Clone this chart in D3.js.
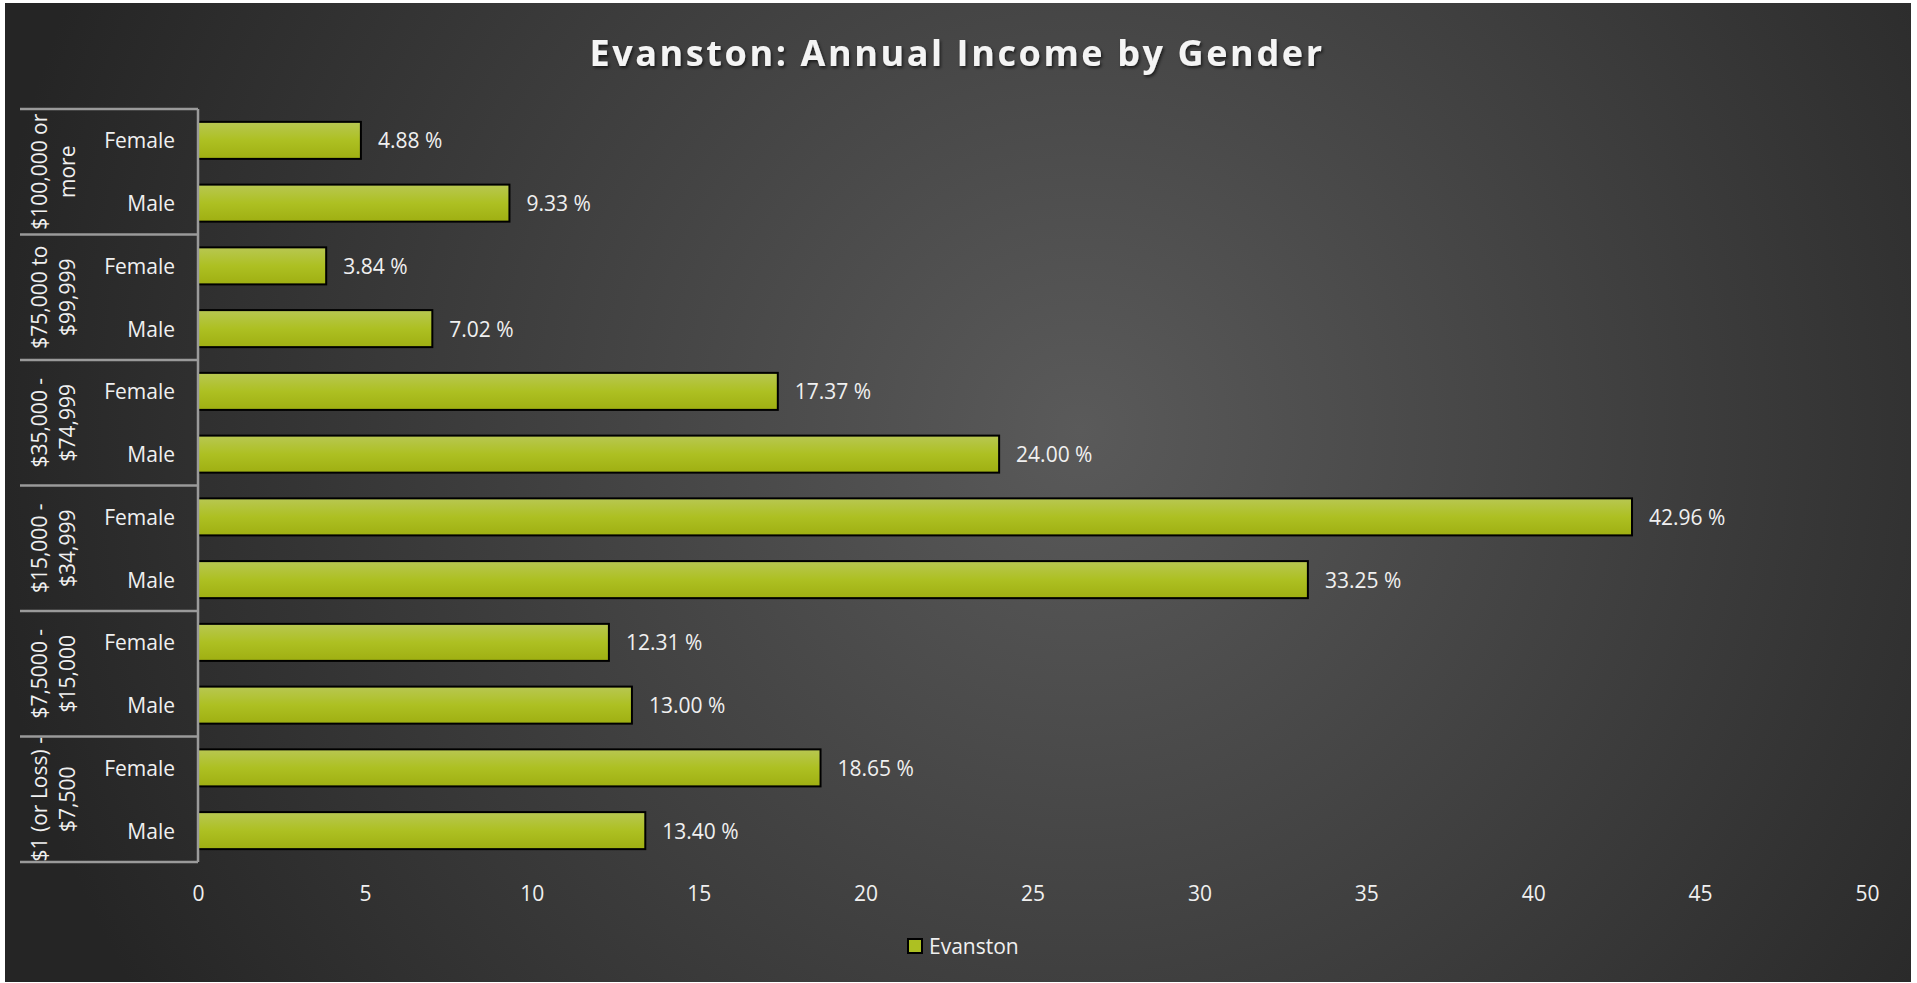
<!DOCTYPE html>
<html>
<head>
<meta charset="utf-8">
<script src="https://cdn.jsdelivr.net/npm/d3@7"></script>
<style>
  html, body { margin: 0; padding: 0; background: #fff; }
  svg { display: block; font-family: 'Open Sans', sans-serif; }
</style>
</head>
<body>
<svg id="chart"></svg>
<script>
const title = 'Evanston: Annual Income by Gender';
const categories = [
  ['$100,000 or', 'more'],
  ['$75,000 to', '$99,999'],
  ['$35,000 -', '$74,999'],
  ['$15,000 -', '$34,999'],
  ['$7,5000 -', '$15,000'],
  ['$1 (or Loss) -', '$7,500']
];
const genders = ['Female', 'Male'];
const female = [4.88, 3.84, 17.37, 42.96, 12.31, 18.65];
const male = [9.33, 7.02, 24.00, 33.25, 13.00, 13.40];
const xTicks = [0, 5, 10, 15, 20, 25, 30, 35, 40, 45, 50];
const seriesName = 'Evanston';

const width = 1917,
  height = 983,
  fontSize = '21px';

const svg = d3.select('#chart')
  .attr('width', width)
  .attr('height', height);

// rows: female/male inside each category, top to bottom
let rows = [];
categories.forEach((c, i) => {
  rows.push({ key: i + '-F', cat: i, gender: genders[0], value: female[i] });
  rows.push({ key: i + '-M', cat: i, gender: genders[1], value: male[i] });
});

const defs = svg.append('defs');

const bg = defs.append('radialGradient')
  .attr('id', 'bg')
  .attr('gradientUnits', 'userSpaceOnUse')
  .attr('cx', 1080).attr('cy', 430).attr('r', 1100);
bg.append('stop').attr('offset', '0%').attr('stop-color', '#5a5a5a');
bg.append('stop').attr('offset', '100%').attr('stop-color', '#252525');

const barGrad = defs.append('linearGradient')
  .attr('id', 'bar')
  .attr('x1', 0).attr('y1', 0).attr('x2', 0).attr('y2', 1);
barGrad.append('stop').attr('offset', '0%').attr('stop-color', '#b8c752');
barGrad.append('stop').attr('offset', '50%').attr('stop-color', '#adc022');
barGrad.append('stop').attr('offset', '100%').attr('stop-color', '#9faf12');

const shadow = defs.append('filter').attr('id', 'shadow')
  .attr('x', '-5%').attr('y', '-20%').attr('width', '110%').attr('height', '150%');
shadow.append('feDropShadow')
  .attr('dx', 1.5).attr('dy', 2).attr('stdDeviation', 1.5)
  .attr('flood-color', '#000').attr('flood-opacity', 0.6);

svg.append('rect')
  .attr('x', 5).attr('y', 3)
  .attr('width', 1906).attr('height', 979)
  .attr('fill', 'url(#bg)');

svg.append('text')
  .attr('x', 957)
  .attr('y', 66)
  .attr('text-anchor', 'middle')
  .attr('fill', '#f4f4f4')
  .style('font-size', '36px')
  .style('font-weight', 'bold')
  .style('letter-spacing', '2.6px')
  .attr('filter', 'url(#shadow)')
  .text(title);

const x = d3.scaleLinear()
  .domain([0, 50])
  .range([198, 1867]);

const y = d3.scaleBand()
  .domain(rows.map(d => d.key))
  .range([109, 862])
  .paddingInner(0.41)
  .paddingOuter(0.205);

const step = y.step();
const catTop = i => y.range()[0] + i * 2 * step;

// bars
svg.append('g')
  .selectAll('rect')
  .data(rows)
  .join('rect')
  .attr('x', x(0))
  .attr('y', d => y(d.key))
  .attr('width', d => x(d.value) - x(0))
  .attr('height', y.bandwidth())
  .attr('fill', 'url(#bar)')
  .attr('stroke', '#000')
  .attr('stroke-width', 2);

// value labels
svg.append('g')
  .selectAll('text')
  .data(rows)
  .join('text')
  .attr('x', d => x(d.value) + 17)
  .attr('y', d => y(d.key) + y.bandwidth() / 2)
  .attr('dominant-baseline', 'central')
  .attr('fill', '#f0f0f0')
  .style('font-size', fontSize)
  .text(d => d.value.toFixed(2) + ' %');

// category axis table
const table = svg.append('g').attr('class', 'cat-axis');

table.selectAll('line.sep')
  .data(d3.range(categories.length + 1))
  .join('line')
  .attr('class', 'sep')
  .attr('x1', 20).attr('x2', x(0))
  .attr('y1', d => catTop(d)).attr('y2', d => catTop(d))
  .attr('stroke', '#9a9a9a')
  .attr('stroke-width', 2.5);

table.append('line')
  .attr('x1', x(0)).attr('x2', x(0))
  .attr('y1', catTop(0)).attr('y2', catTop(categories.length))
  .attr('stroke', '#9a9a9a')
  .attr('stroke-width', 2.5);

table.selectAll('text.gender')
  .data(rows)
  .join('text')
  .attr('class', 'gender')
  .attr('x', 175)
  .attr('y', d => y(d.key) + y.bandwidth() / 2)
  .attr('text-anchor', 'end')
  .attr('dominant-baseline', 'central')
  .attr('fill', '#f0f0f0')
  .style('font-size', fontSize)
  .text(d => d.gender);

const catLabel = table.selectAll('g.cat')
  .data(categories)
  .join('g')
  .attr('class', 'cat')
  .attr('transform', (d, i) => 'translate(53,' + (catTop(i) + step) + ') rotate(-90)');

catLabel.selectAll('text')
  .data(d => d)
  .join('text')
  .attr('x', 0)
  .attr('y', (d, i) => (i - 0.5) * 28)
  .attr('text-anchor', 'middle')
  .attr('dominant-baseline', 'central')
  .attr('fill', '#f0f0f0')
  .style('font-size', fontSize)
  .text(d => d);

// x axis
const xAxis = g => g
  .attr('transform', 'translate(0,' + 880 + ')')
  .call(d3.axisBottom(x).tickValues(xTicks).tickSize(0).tickPadding(0))
  .call(g => g.select('.domain').remove())
  .call(g => g.selectAll('text')
    .attr('fill', '#f0f0f0')
    .attr('dy', null)
    .attr('y', 21)
    .style('font-family', "'Open Sans', sans-serif")
    .style('font-size', fontSize));

svg.append('g').call(xAxis);

// legend
const legend = svg.append('g').attr('transform', 'translate(908,939)');
legend.append('rect')
  .attr('width', 14).attr('height', 14)
  .attr('fill', '#adc022')
  .attr('stroke', '#000')
  .attr('stroke-width', 2);
legend.append('text')
  .attr('x', 21).attr('y', 7)
  .attr('dominant-baseline', 'central')
  .attr('fill', '#f0f0f0')
  .style('font-size', fontSize)
  .text(seriesName);
</script>
</body>
</html>
